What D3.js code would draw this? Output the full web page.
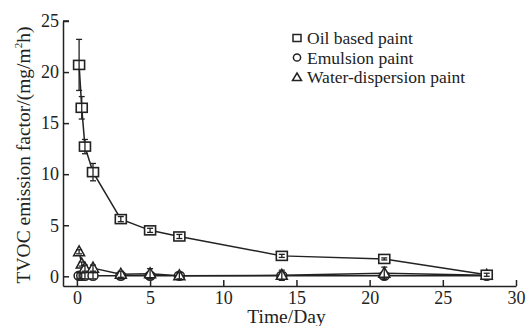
<!DOCTYPE html>
<html>
<head>
<meta charset="utf-8">
<script src="https://cdn.jsdelivr.net/npm/d3@7"></script>
<style>
  html, body { margin: 0; padding: 0; background: #fff; }
  svg { display: block; }
  text { font-family: "Liberation Serif", "Times New Roman", serif; fill: #222; }
</style>
</head>
<body>
<svg id="chart" width="529" height="326"></svg>
<script>
// Sampling days
const days = [0.15, 0.33, 0.55, 1.1, 3, 5, 7, 14, 21, 28];

// TVOC emission factor (mg/m²h) per paint type
const oilValues   = [20.7, 16.5, 12.7, 10.2, 5.6, 4.5, 3.9, 2.0, 1.7, 0.15];
const oilErrors   = [2.5, 1.1, 0.7, 0.85, 0.25, 0.2, 0.2, 0.15, 0.1, 0.15];
const emulValues  = [0.05, 0.05, 0.05, 0.05, 0.05, 0.05, 0.05, 0.05, 0.05, 0.05];
const emulErrors  = [0.3, 0.3, 0.3, 0.3, 0.3, 0.3, 0.3, 0.3, 0.3, 0.3];
const waterValues = [2.4, 1.2, 0.8, 0.8, 0.2, 0.25, 0.05, 0.1, 0.3, 0.1];
const waterErrors = [0.2, 0.2, 0.3, 0.3, 0.3, 0.5, 0.3, 0.5, 0.6, 0.3];

const seriesNames = ["Oil based paint", "Emulsion paint", "Water-dispersion paint"];
const xTicks = [0, 5, 10, 15, 20, 25, 30];
const yTicks = [0, 5, 10, 15, 20, 25];

const svg = d3.select("#chart");
const x = d3.scaleLinear().domain([-0.95, 30]).range([63, 516]);
const y = d3.scaleLinear().domain([-0.95, 25]).range([286, 21]);

const ink = "#222";

// Axes: ticks point inward
const xAxis = svg.append("g").attr("transform", `translate(0,${y(-0.95)})`)
  .call(d3.axisBottom(x).tickValues(xTicks).tickSizeInner(-6).tickSizeOuter(0).tickPadding(5));
const yAxis = svg.append("g").attr("transform", `translate(${x(-0.95)},0)`)
  .call(d3.axisLeft(y).tickValues(yTicks).tickSizeInner(-6).tickSizeOuter(0).tickPadding(4));
[xAxis, yAxis].forEach(a => {
  a.selectAll("path, line").attr("stroke", ink).attr("stroke-width", 1.5);
  a.selectAll("text").attr("font-size", 18).attr("font-family", "Liberation Serif").attr("fill", ink);
});
// top cap on the y axis
svg.append("line").attr("x1", x(-0.95)).attr("x2", x(-0.95) + 6)
  .attr("y1", y(25)).attr("y2", y(25)).attr("stroke", ink).attr("stroke-width", 1.5);

// Axis titles
svg.append("text").attr("x", 286.5).attr("y", 323).attr("text-anchor", "middle")
  .attr("font-size", 19.5).text("Time/Day");
const yt = svg.append("text").attr("transform", "translate(30,155) rotate(-90)")
  .attr("text-anchor", "middle").attr("font-size", 19.5);
yt.append("tspan").text("TVOC emission factor/(mg/m");
yt.append("tspan").attr("font-size", 11).attr("dy", -8).text("2");
yt.append("tspan").attr("dy", 8).text("h)");

const series = [
  { vals: oilValues, errs: oilErrors, shape: "square" },
  { vals: emulValues, errs: emulErrors, shape: "circle" },
  { vals: waterValues, errs: waterErrors, shape: "triangle" }
];

function drawMarker(g, shape, cx, cy) {
  if (shape === "square") {
    g.append("rect").attr("x", cx - 5.5).attr("y", cy - 4.5).attr("width", 11).attr("height", 9)
      .attr("fill", "#fff").attr("stroke", ink).attr("stroke-width", 1.6);
  } else if (shape === "circle") {
    g.append("ellipse").attr("cx", cx).attr("cy", cy).attr("rx", 5).attr("ry", 4.5)
      .attr("fill", "#fff").attr("stroke", ink).attr("stroke-width", 1.5);
  } else {
    g.append("path").attr("d", `M${cx},${cy - 6}L${cx + 5.5},${cy + 4}L${cx - 5.5},${cy + 4}Z`)
      .attr("fill", "#fff").attr("stroke", ink).attr("stroke-width", 1.5);
  }
}

const line = d3.line().x(d => x(d[0])).y(d => y(d[1]));

// draw from back to front: emulsion, water, oil
[1, 2, 0].forEach(i => {
  const s = series[i];
  const pts = days.map((d, k) => [d, s.vals[k]]);
  const g = svg.append("g");
  g.append("path").attr("d", line(pts)).attr("fill", "none")
    .attr("stroke", ink).attr("stroke-width", 1.5);
  pts.forEach(p => drawMarker(g, s.shape, x(p[0]), y(p[1])));
  // error bars on top of markers
  pts.forEach((p, k) => {
    const cx = x(p[0]), e = s.errs[k];
    const y1 = y(p[1] + e), y2 = y(p[1] - e);
    g.append("line").attr("x1", cx).attr("x2", cx).attr("y1", y1).attr("y2", y2)
      .attr("stroke", ink).attr("stroke-width", 1.3);
    [y1, y2].forEach(yy => g.append("line").attr("x1", cx - 3).attr("x2", cx + 3)
      .attr("y1", yy).attr("y2", yy).attr("stroke", ink).attr("stroke-width", 1.3));
  });
});

// Legend
const legendY = [38, 57.5, 77];
["square", "circle", "triangle"].forEach((shape, i) => {
  const g = svg.append("g");
  const cy = legendY[i];
  if (shape === "square") {
    g.append("rect").attr("x", 293).attr("y", cy - 3.5).attr("width", 8).attr("height", 7)
      .attr("fill", "#fff").attr("stroke", ink).attr("stroke-width", 1.5);
  } else if (shape === "circle") {
    g.append("circle").attr("cx", 297).attr("cy", cy).attr("r", 3.6)
      .attr("fill", "#fff").attr("stroke", ink).attr("stroke-width", 1.5);
  } else {
    g.append("path").attr("d", `M297,${cy - 4}L301.5,${cy + 3.5}L292.5,${cy + 3.5}Z`)
      .attr("fill", "#fff").attr("stroke", ink).attr("stroke-width", 1.5);
  }
  g.append("text").attr("x", 307).attr("y", cy + 6).attr("font-size", 17.5).text(seriesNames[i]);
});
</script>
</body>
</html>
